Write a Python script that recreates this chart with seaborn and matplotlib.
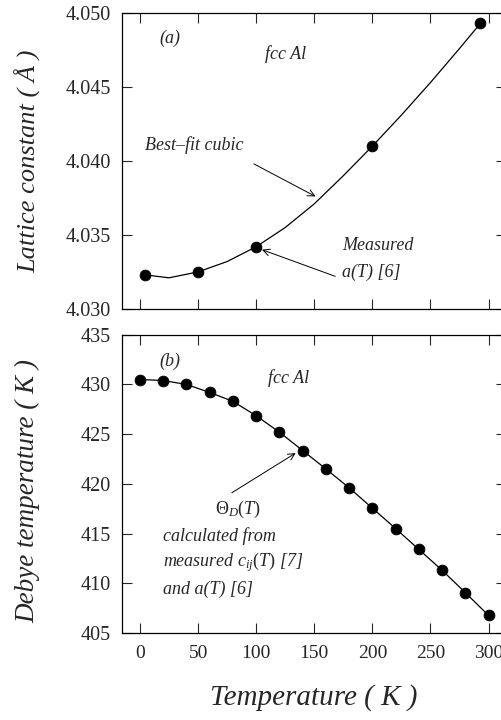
import matplotlib
matplotlib.use("Agg")
import matplotlib.pyplot as plt
import seaborn as sns
import pandas as pd

# ---- data ----
T_meas_a = [4.2, 50, 100, 200, 293]
a_meas = [4.0323, 4.0325, 4.0342, 4.0410, 4.0493]

T_fit = [4.2, 25, 50, 75, 100, 125, 150, 175, 200, 225, 250, 275, 293]
a_fit = [4.0323, 4.0321, 4.0325, 4.0332, 4.0342, 4.0355, 4.0371, 4.0390,
         4.0410, 4.0431, 4.0453, 4.0476, 4.0493]

T_b = [0, 20, 40, 60, 80, 100, 120, 140, 160, 180, 200, 220, 240, 260, 280, 300]
theta_b = [430.5, 430.4, 430.0, 429.2, 428.3, 426.85, 425.2, 423.35, 421.5,
           419.6, 417.55, 415.5, 413.4, 411.3, 409.05, 406.75]

x_ticks = [0, 50, 100, 150, 200, 250, 300]
a_ticks = [4.030, 4.035, 4.040, 4.045, 4.050]
b_ticks = [405, 410, 415, 420, 425, 430, 435]

sns.set_theme(style="ticks")
plt.rcParams["font.family"] = ["Liberation Serif", "DejaVu Serif"]
plt.rcParams["mathtext.fontset"] = "custom"
plt.rcParams["mathtext.it"] = "Liberation Serif:italic"
plt.rcParams["mathtext.rm"] = "Liberation Serif"

fig = plt.figure(figsize=(5.02, 7.2), dpi=100)
ax1 = fig.add_axes([0.243, 0.571, 0.765, 0.411])
ax2 = fig.add_axes([0.243, 0.121, 0.765, 0.414])

df_fit = pd.DataFrame({"T": T_fit, "a": a_fit})
df_ma = pd.DataFrame({"T": T_meas_a, "a": a_meas})
df_b = pd.DataFrame({"T": T_b, "th": theta_b})

sns.lineplot(data=df_fit, x="T", y="a", ax=ax1, color="black", lw=0.9)
sns.scatterplot(data=df_ma, x="T", y="a", ax=ax1, color="black", s=60,
                edgecolor="black", zorder=3)

sns.lineplot(data=df_b, x="T", y="th", ax=ax2, color="black", lw=0.9)
sns.scatterplot(data=df_b, x="T", y="th", ax=ax2, color="black", s=60,
                edgecolor="black", zorder=3)

for ax in (ax1, ax2):
    ax.set_xlim(-15.5, 315)
    ax.set_xticks(x_ticks)
    ax.tick_params(direction="in", length=7, width=0.8, top=True, right=True,
                   labelsize=14.5)
    ax.tick_params(axis="y", pad=8)
    ax.tick_params(axis="x", pad=9, labelsize=14)
    for s in ax.spines.values():
        s.set_linewidth(0.9)
        s.set_color("black")

ax1.set_ylim(4.030, 4.050)
ax1.set_yticks(a_ticks)
ax1.set_yticklabels([f"{v:.3f}" for v in a_ticks])
ax1.tick_params(labelbottom=False)
ax1.set_xlabel("")
ax1.set_ylabel("Lattice constant ( Å )", fontsize=19, style="italic")
ax1.yaxis.set_label_coords(-0.212, 0.5)

ax2.set_ylim(405, 435)
ax2.set_yticks(b_ticks)
ax2.set_xticklabels([str(v) for v in x_ticks])
ax2.set_xlabel("Temperature ( K )", fontsize=21, style="italic")
ax2.xaxis.set_label_coords(0.5, -0.172)
ax2.set_ylabel("Debye temperature ( K )", fontsize=19.5, style="italic")
ax2.yaxis.set_label_coords(-0.212, 0.475)

fs = 13
# annotations panel (a)
ax1.text(26, 4.0483, "(a)", style="italic", fontsize=fs, ha="center", va="center")
ax1.text(125, 4.0472, "fcc Al", style="italic", fontsize=fs, ha="center", va="center")
ax1.text(47, 4.0411, "Best–fit cubic", style="italic", fontsize=fs, ha="center", va="center")
ax1.annotate("", xy=(151, 4.0376), xytext=(98, 4.0398),
             arrowprops=dict(arrowstyle="->", lw=0.7, color="black", shrinkA=0, shrinkB=0))
ax1.text(174, 4.0343, "Measured", style="italic", fontsize=fs, ha="left", va="center")
ax1.text(174, 4.0325, "a(T) [6]", style="italic", fontsize=fs, ha="left", va="center")
ax1.annotate("", xy=(105, 4.0340), xytext=(168, 4.0322),
             arrowprops=dict(arrowstyle="->", lw=0.7, color="black", shrinkA=0, shrinkB=0))

# annotations panel (b)
ax2.text(26, 432.3, "(b)", style="italic", fontsize=fs, ha="center", va="center")
ax2.text(128, 430.6, "fcc Al", style="italic", fontsize=fs, ha="center", va="center")
ax2.annotate("", xy=(134, 423.1), xytext=(79, 419.1),
             arrowprops=dict(arrowstyle="->", lw=0.7, color="black", shrinkA=0, shrinkB=0))
ax2.text(84, 417.4, r"$\Theta_D(T)$", fontsize=fs, ha="center", va="center")
ax2.text(20, 414.7, "calculated from", style="italic", fontsize=fs, ha="left", va="center")
ax2.text(20, 412.1, r"measured $c_{ij}(T)$ [7]", style="italic", fontsize=fs, ha="left", va="center")
ax2.text(20, 409.4, "and a(T) [6]", style="italic", fontsize=fs, ha="left", va="center")

fig.savefig("out.png", dpi=100)
